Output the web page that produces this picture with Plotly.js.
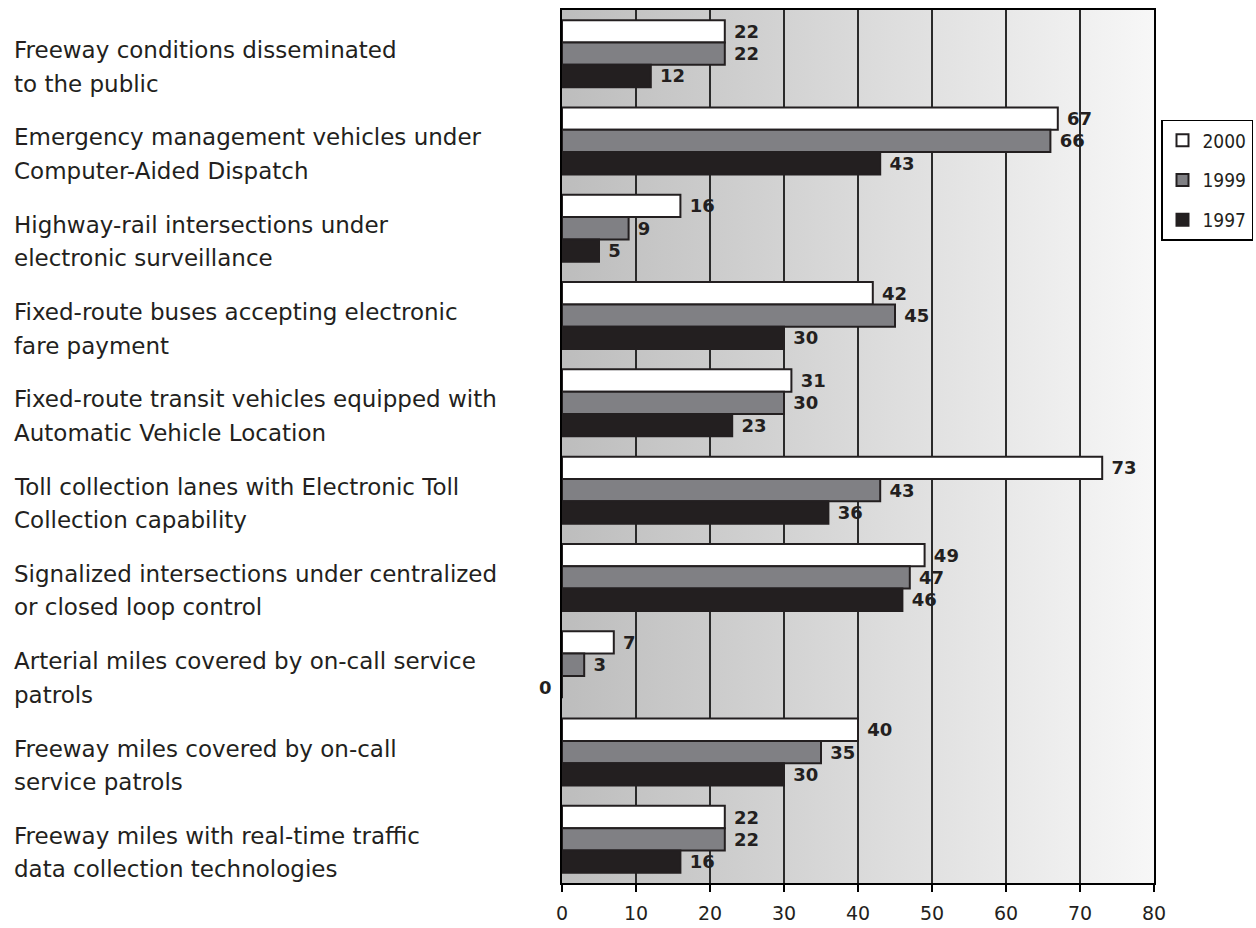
<!DOCTYPE html>
<html>
<head>
<meta charset="utf-8">
<script src="https://cdn.plot.ly/plotly-3.0.1.min.js"></script>
<style>
  html, body { margin: 0; padding: 0; background: #ffffff; }
  #chart { width: 1256px; height: 928px; }
</style>
</head>
<body>
<div id="chart"></div>
<script>
// ITS deployment indicators, percent, by survey year
const categories = [
  "Freeway conditions disseminated<br>to the public",
  "Emergency management vehicles under<br>Computer-Aided Dispatch",
  "Highway-rail intersections under<br>electronic surveillance",
  "Fixed-route buses accepting electronic<br>fare payment",
  "Fixed-route transit vehicles equipped with<br>Automatic Vehicle Location",
  "Toll collection lanes with Electronic Toll<br>Collection capability",
  "Signalized intersections under centralized<br>or closed loop control",
  "Arterial miles covered by on-call service<br>patrols",
  "Freeway miles covered by on-call<br>service patrols",
  "Freeway miles with real-time traffic<br>data collection technologies"
];
const years = ["2000", "1999", "1997"];
const values2000 = [22, 67, 16, 42, 31, 73, 49, 7, 40, 22];
const values1999 = [22, 66, 9, 45, 30, 43, 47, 3, 35, 22];
const values1997 = [12, 43, 5, 30, 23, 36, 46, 0, 30, 16];
const xTicks = [0, 10, 20, 30, 40, 50, 60, 70, 80];

const FONT = "DejaVu Sans, Verdana, sans-serif";
const NARROW = "DejaVu Sans Condensed, DejaVu Sans, sans-serif";
const INK = "#231f20";

const W = 1256, H = 928;
const M = { l: 562, r: 102, t: 10, b: 45 };
const BARGAP = 0.232;
const plotW = W - M.l - M.r;
const plotH = H - M.t - M.b;
const slot = plotH / categories.length;
const barThick = slot * (1 - BARGAP) / years.length;

const labelFont = { family: FONT, size: 18, color: INK, weight: "bold" };

function series(name, vals, fill, group) {
  return {
    type: "bar",
    orientation: "h",
    name: name,
    legendgroup: group,
    y: categories,
    x: vals,
    text: vals.map(v => " " + v),
    // a zero-length bar gets its value written left of the axis instead
    textposition: vals.map(v => v === 0 ? "none" : "outside"),
    constraintext: "none",
    cliponaxis: false,
    outsidetextfont: labelFont,
    marker: { color: fill, line: { color: INK, width: 2 } },
    hoverinfo: "x+name"
  };
}

const seriesValues = [values2000, values1999, values1997];
const fills = ["#ffffff", "#808084", INK];
const traces = years.map((y, i) => series(y, seriesValues[i], fills[i], "g" + i));

const notes = [];

// left-aligned, two-line category labels
categories.forEach(c => {
  c.split("<br>").forEach((ln, i) => {
    notes.push({
      xref: "paper", yref: "y",
      x: -(M.l - 12) / plotW, y: c,
      xanchor: "left", yanchor: "middle",
      yshift: 3.5 - 33.5 * i,
      text: ln, showarrow: false, align: "left",
      font: { family: FONT, size: 23, color: INK }
    });
  });
});

// value labels for zero-length bars, placed left of the axis
seriesValues.forEach((vals, ti) => {
  vals.forEach((v, ci) => {
    if (v === 0) {
      notes.push({
        xref: "x", yref: "y", x: v, y: categories[ci],
        xanchor: "right", yanchor: "middle",
        xshift: -8, yshift: -(ti - (years.length - 1) / 2) * barThick,
        text: String(v), showarrow: false, font: labelFont
      });
    }
  });
});

// soft left-to-right gradient behind the plot area
const bgSvg = '<svg xmlns="http://www.w3.org/2000/svg" width="600" height="100" preserveAspectRatio="none">' +
  '<defs><linearGradient id="g" x1="0" y1="0" x2="1" y2="0">' +
  '<stop offset="0" stop-color="#bdbdbd"/><stop offset="1" stop-color="#f7f7f7"/>' +
  '</linearGradient></defs><rect width="600" height="100" fill="url(#g)"/></svg>';

const layout = {
  width: W, height: H,
  margin: { l: M.l, r: M.r, t: M.t, b: M.b, pad: 0, autoexpand: false },
  paper_bgcolor: "#ffffff",
  plot_bgcolor: "rgba(0,0,0,0)",
  font: { family: FONT, color: INK },
  barmode: "group",
  bargap: BARGAP,
  bargroupgap: 0,
  showlegend: true,
  legend: {
    x: (1161 - M.l) / plotW, y: 0.874, xanchor: "left", yanchor: "top",
    bordercolor: "#000000", borderwidth: 1.5, bgcolor: "#ffffff",
    font: { family: NARROW, size: 19, color: INK },
    traceorder: "grouped", tracegroupgap: 12, itemwidth: 30
  },
  xaxis: {
    range: [0, 80], tickvals: xTicks, ticktext: xTicks.map(String),
    ticks: "outside", ticklen: 7, tickwidth: 2, tickcolor: "#000000",
    showgrid: true, gridcolor: "#2a2a2a", gridwidth: 1.2,
    showline: true, linecolor: "#000000", linewidth: 2, mirror: true,
    zeroline: false, ticklabelstandoff: 5,
    tickfont: { family: FONT, size: 19, color: INK }
  },
  yaxis: {
    type: "category", categoryorder: "array", categoryarray: categories,
    range: [categories.length - 0.5, -0.5], autorange: false,
    showticklabels: false, ticks: "",
    showgrid: false, zeroline: false,
    showline: true, linecolor: "#000000", linewidth: 2, mirror: true
  },
  images: [{
    source: "data:image/svg+xml;charset=utf-8," + encodeURIComponent(bgSvg),
    xref: "paper", yref: "paper", x: 0, y: 1, sizex: 1, sizey: 1,
    xanchor: "left", yanchor: "top", sizing: "stretch", layer: "below"
  }],
  annotations: notes
};

Plotly.newPlot("chart", traces, layout, { displayModeBar: false, staticPlot: true });
</script>
</body>
</html>
